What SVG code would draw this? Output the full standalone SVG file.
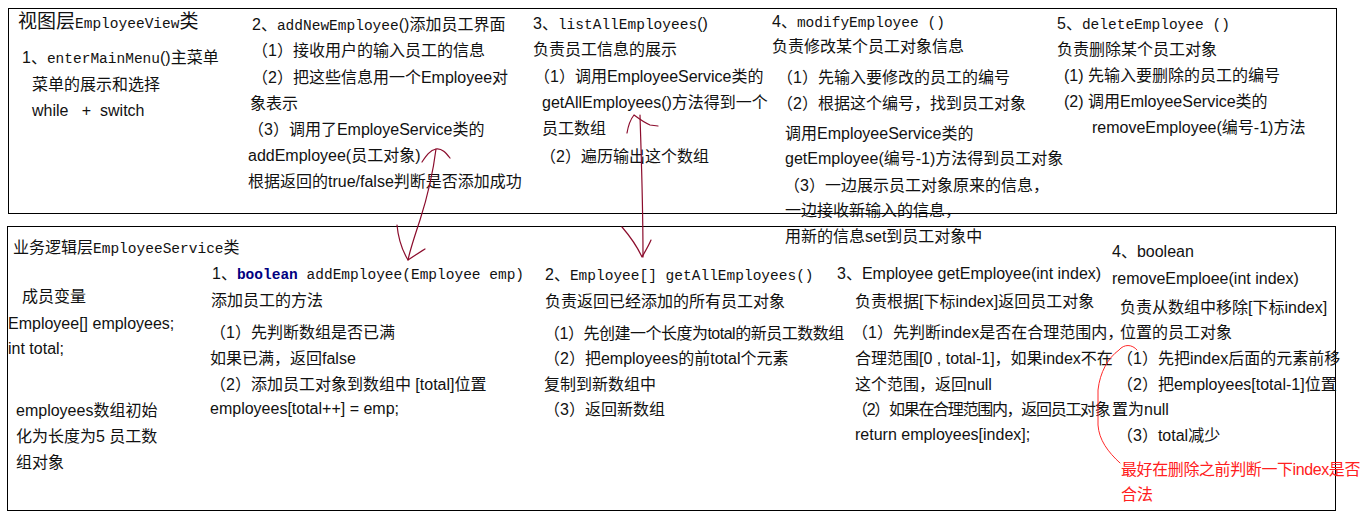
<svg xmlns="http://www.w3.org/2000/svg" width="1360" height="519" viewBox="0 0 1360 519">
<style>
text { font-family: "Liberation Sans", "Noto Sans CJK SC", sans-serif; font-size: 16px; fill: #111; }
.m { font-family: "Liberation Mono", "Noto Sans CJK SC", monospace; font-size: 14.5px; }
.h { font-size: 19px; }
.kw { font-weight: bold; fill: #000080; }
.red { fill: #ff2020; }
.box { fill: #fff; stroke: #000; stroke-width: 1; }
.ink { fill: none; stroke: #8b0c2c; stroke-width: 1.2; stroke-linecap: round; stroke-linejoin: round; }
.redink { fill: none; stroke: #ff2a2a; stroke-width: 1; stroke-linecap: round; }
</style>

<g id="view-layer">
  <rect class="box" x="8.5" y="8.5" width="1328" height="205"/>
  <text x="18" y="28"><tspan class="h">视图层</tspan><tspan class="m">EmployeeView</tspan><tspan class="h">类</tspan></text>
</g>

<g id="service-layer">
  <rect class="box" x="7.5" y="226.5" width="1328" height="284"/>
  <text x="13" y="253">业务逻辑层<tspan class="m">EmployeeService</tspan>类</text>
</g>

<g id="view-menu">
  <text x="22" y="63">1、<tspan class="m">enterMainMenu</tspan>()主菜单</text>
  <text x="32" y="90">菜单的展示和选择</text>
  <text x="32" y="116" xml:space="preserve">while   +  switch</text>
</g>

<g id="view-add">
  <text x="252" y="30">2、<tspan class="m">addNewEmployee</tspan>()添加员工界面</text>
  <text x="252" y="56">（1）接收用户的输入员工的信息</text>
  <text x="252" y="83">（2）把这些信息用一个Employee对</text>
  <text x="250" y="109">象表示</text>
  <text x="248" y="135">（3）调用了EmployeService类的</text>
  <text x="248" y="161">addEmployee(员工对象)</text>
  <text x="248" y="187">根据返回的true/false判断是否添加成功</text>
</g>

<g id="view-list">
  <text x="533" y="29">3、<tspan class="m">listAllEmployees</tspan>()</text>
  <text x="533" y="55">负责员工信息的展示</text>
  <text x="534" y="82">（1）调用EmployeeService类的</text>
  <text x="542" y="108">getAllEmployees()方法得到一个</text>
  <text x="542" y="134">员工数组</text>
  <text x="540" y="162">（2）遍历输出这个数组</text>
</g>

<g id="view-modify">
  <text x="772" y="27">4、<tspan class="m" xml:space="preserve">modifyEmployee ()</tspan></text>
  <text x="772" y="52">负责修改某个员工对象信息</text>
  <text x="777" y="83">（1）先输入要修改的员工的编号</text>
  <text x="777" y="109">（2）根据这个编号，找到员工对象</text>
  <text x="785" y="139">调用EmployeeService类的</text>
  <text x="785" y="164">getEmployee(编号-1)方法得到员工对象</text>
  <text x="784" y="191">（3）一边展示员工对象原来的信息，</text>
  <text x="785" y="216">一边接收新输入的信息，</text>
  <text x="785" y="242">用新的信息set到员工对象中</text>
</g>

<g id="view-delete">
  <text x="1057" y="29">5、<tspan class="m" xml:space="preserve">deleteEmployee ()</tspan></text>
  <text x="1057" y="55">负责删除某个员工对象</text>
  <text x="1064" y="81">(1) 先输入要删除的员工的编号</text>
  <text x="1064" y="107">(2) 调用EmloyeeService类的</text>
  <text x="1092" y="133">removeEmployee(编号-1)方法</text>
</g>

<g id="service-fields">
  <text x="22" y="302">成员变量</text>
  <text x="8" y="329">Employee[] employees;</text>
  <text x="8" y="354">int total;</text>
  <text x="16" y="416">employees数组初始</text>
  <text x="16" y="442">化为长度为5 员工数</text>
  <text x="16" y="468">组对象</text>
</g>

<g id="service-add">
  <text x="212" y="279">1、<tspan class="m"><tspan class="kw">boolean</tspan> addEmployee(Employee emp)</tspan></text>
  <text x="211" y="306">添加员工的方法</text>
  <text x="210" y="338">（1）先判断数组是否已满</text>
  <text x="210" y="364">如果已满，返回false</text>
  <text x="210" y="390">（2）添加员工对象到数组中 [total]位置</text>
  <text x="210" y="414">employees[total++] = emp;</text>
</g>

<g id="service-getall">
  <text x="545" y="280">2、<tspan class="m">Employee[] getAllEmployees()</tspan></text>
  <text x="545" y="307">负责返回已经添加的所有员工对象</text>
  <text x="544" y="339" letter-spacing="-0.5">（1）先创建一个长度为total的新员工数数组</text>
  <text x="544" y="364">（2）把employees的前total个元素</text>
  <text x="544" y="390">复制到新数组中</text>
  <text x="544" y="415">（3）返回新数组</text>
</g>

<g id="service-get">
  <text x="837" y="279">3、Employee getEmployee(int index)</text>
  <text x="855" y="307">负责根据[下标index]返回员工对象</text>
  <text x="852" y="338">（1）先判断index是否在合理范围内，</text>
  <text x="855" y="364">合理范围[0 , total-1]，如果index不在</text>
  <text x="855" y="390">这个范围，返回null</text>
  <text x="852" y="415" letter-spacing="-1.3">（2）如果在合理范围内，返回员工对象</text>
  <text x="855" y="440">return employees[index];</text>
</g>

<g id="service-remove">
  <text x="1112" y="257">4、boolean</text>
  <text x="1112" y="284">removeEmploee(int index)</text>
  <text x="1120" y="313">负责从数组中移除[下标index]</text>
  <text x="1120" y="338">位置的员工对象</text>
  <text x="1117" y="364">（1）先把index后面的元素前移</text>
  <text x="1117" y="390">（2）把employees[total-1]位置</text>
  <text x="1112" y="415">置为null</text>
  <text x="1117" y="441">（3）total减少</text>
  <text class="red" x="1121" y="475" letter-spacing="-0.4">最好在删除之前判断一下index是否</text>
  <text class="red" x="1121" y="500">合法</text>
</g>

<g id="connectors">
  <path class="ink" d="M422,162 C426,156 430,150 436,149 C442,148 446,153 450,158"/>
  <path class="ink" d="M436,149 C434,165 428,195 420,220 C414,238 410,250 408,260"/>
  <path class="ink" d="M397,225 C398,236 402,250 408,260 C414,256 420,252 425,249"/>
  <path class="ink" d="M627,133 C628,127 630,120 634,115 C638,118 643,122 650,125 L658,126"/>
  <path class="ink" d="M640,115 C641,150 643,200 643,257"/>
  <path class="ink" d="M622,227 C628,234 635,242 642,257 C646,250 649,245 651,240"/>
  <path class="redink" d="M1137,350 C1132,344 1124,344 1119,350 C1108,358 1100,372 1098,390 L1098,425 C1099,440 1108,452 1120,463"/>
</g>
</svg>
